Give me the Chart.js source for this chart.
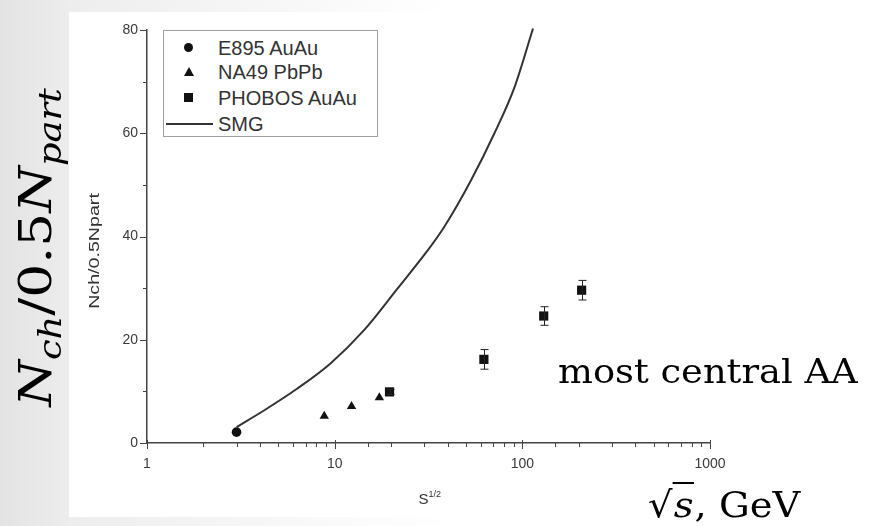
<!DOCTYPE html>
<html>
<head>
<meta charset="utf-8">
<script src="https://cdn.jsdelivr.net/npm/chart.js@4.4.1/dist/chart.umd.min.js"></script>
<style>
  html, body { margin: 0; padding: 0; }
  body { width: 871px; height: 526px; position: relative; overflow: hidden;
         background: linear-gradient(90deg, #e3e3e3 0px, #ededed 70px, #f6f6f6 250px, #ffffff 450px); }
  #panel { position: absolute; left: 69px; top: 12px; right: 0; height: 505px; background: #fff; }
  #c { position: absolute; left: 0; top: 0; }
  #legend { position: absolute; left: 163px; top: 30px; width: 215px; height: 107px;
            border: 1px solid #a0a0a0; box-sizing: border-box; background: #fff;
            font-family: "Liberation Sans", Arial, sans-serif; font-size: 20px; color: #333; }
  .row { position: absolute; left: 0; height: 22px; line-height: 22px; white-space: nowrap; }
  .row .lbl { position: absolute; left: 54px; top: 0; }
  .mk { position: absolute; }
  .ytitle { position: absolute; font-family: "Liberation Sans", Arial, sans-serif; font-size: 14px; color: #333;
            transform-origin: center center; white-space: nowrap; }
  .xtitle { position: absolute; font-family: "Liberation Sans", Arial, sans-serif; font-size: 15px; color: #333; white-space: nowrap; }
  .xtitle sup { font-size: 9px; vertical-align: 7px; }
  .big { position: absolute; font-family: "DejaVu Serif", serif; color: #000; white-space: nowrap; }
</style>
</head>
<body>
<div id="panel"></div>
<canvas id="c" width="871" height="526"></canvas>
<div id="legend"></div>
<div class="ytitle" id="ytitle">Nch/0.5Npart</div>
<div class="xtitle" id="xtitle">S<sup>1/2</sup></div>
<div class="big" id="nlabel" style="font-size:45px;"><i>N</i><sub style="font-size:31px;"><i>ch</i></sub>/0.5<i>N</i><sub style="font-size:31px;"><i>part</i></sub></div>
<div class="big" id="central" style="font-size:34px; left:558px; top:351px;">most central AA</div>
<div class="big" id="sqrts" style="font-size:36px; left:648px; top:484px;">√<span style="border-top:2px solid #000; font-style:italic; padding:0 1px;">s</span>, GeV</div>
<script>
// ---- data ----
const seriesNames = ['E895 AuAu', 'NA49 PbPb', 'PHOBOS AuAu', 'SMG'];
const e895X = [3.0];
const e895Y = [2.1];
const na49X = [8.8, 12.3, 17.3];
const na49Y = [5.2, 7.1, 8.8];
const phobosX = [19.6, 62.4, 130, 207];
const phobosY = [9.9, 16.2, 24.6, 29.6];
const phobosErr = [0.5, 1.9, 1.8, 1.9];
const smgX = [3, 4.2, 6.3, 9.5, 14.3, 21.6, 31, 38.4, 53.3, 71, 91, 114];
const smgY = [3.1, 6.3, 10.5, 15.4, 21.8, 29.9, 37.1, 41.9, 50.9, 60.0, 69.0, 80.3];
const xTickLabels = ['1', '10', '100', '1000'];
const yTickLabels = ['0', '20', '40', '60', '80'];

const pts = (xs, ys) => xs.map((x, i) => ({ x: x, y: ys[i] }));
const isPow10 = v => Math.abs(Math.log10(v) - Math.round(Math.log10(v))) < 1e-9;

const tickMarks = {
  id: 'tickMarks',
  afterDraw(chart) {
    const { ctx, scales: { x, y } } = chart;
    ctx.save();
    ctx.strokeStyle = '#444';
    ctx.lineWidth = 1;
    const ay = y.getPixelForValue(0);
    x.ticks.forEach(t => {
      const px = Math.round(x.getPixelForValue(t.value)) + 0.5;
      const maj = isPow10(t.value);
      ctx.beginPath();
      ctx.moveTo(px, ay - (maj ? 3 : 1));
      ctx.lineTo(px, ay + (maj ? 6 : 4));
      ctx.stroke();
    });
    const ax = x.left;
    y.ticks.forEach(t => {
      const py = Math.round(y.getPixelForValue(t.value)) + 0.5;
      const maj = yTickLabels.includes(String(t.value));
      ctx.beginPath();
      ctx.moveTo(ax - (maj ? 7 : 4), py);
      ctx.lineTo(ax, py);
      ctx.stroke();
    });
    ctx.restore();
  }
};

const errorBars = {
  id: 'errorBars',
  afterDatasetsDraw(chart) {
    const { ctx, scales: { x, y } } = chart;
    ctx.save();
    ctx.strokeStyle = '#222';
    ctx.lineWidth = 1;
    phobosX.forEach((xv, i) => {
      const px = Math.round(x.getPixelForValue(xv)) + 0.5;
      const y1 = y.getPixelForValue(phobosY[i] + phobosErr[i]);
      const y2 = y.getPixelForValue(phobosY[i] - phobosErr[i]);
      ctx.beginPath();
      ctx.moveTo(px, y1); ctx.lineTo(px, y2);
      ctx.moveTo(px - 4, y1); ctx.lineTo(px + 4, y1);
      ctx.moveTo(px - 4, y2); ctx.lineTo(px + 4, y2);
      ctx.stroke();
    });
    ctx.restore();
  }
};

const tickFont = { family: 'Liberation Sans', size: 14 };

new Chart(document.getElementById('c'), {
  type: 'scatter',
  data: {
    datasets: [
      { label: seriesNames[0], data: pts(e895X, e895Y), pointStyle: 'circle', pointRadius: 4.8,
        backgroundColor: '#111', borderColor: '#111', borderWidth: 0 },
      { label: seriesNames[1], data: pts(na49X, na49Y), pointStyle: 'triangle', pointRadius: 5.4,
        backgroundColor: '#111', borderColor: '#111', borderWidth: 0 },
      { label: seriesNames[2], data: pts(phobosX, phobosY), pointStyle: 'rect', pointRadius: 6.5,
        backgroundColor: '#111', borderColor: '#111', borderWidth: 0 },
      { label: seriesNames[3], data: pts(smgX, smgY), showLine: true, pointRadius: 0,
        borderColor: '#333', borderWidth: 2, cubicInterpolationMode: 'monotone', clip: false }
    ]
  },
  options: {
    responsive: false,
    animation: false,
    devicePixelRatio: 1,
    layout: { padding: { left: 0, top: 30, right: 161, bottom: 0 } },
    plugins: { legend: { display: false }, tooltip: { enabled: false } },
    scales: {
      x: {
        type: 'logarithmic', min: 1, max: 1000, position: 'bottom',
        grid: { display: false, drawOnChartArea: false, drawTicks: false },
        border: { display: true, color: '#444', width: 1.5 },
        ticks: {
          autoSkip: false, maxRotation: 0, padding: 13, color: '#3a3a3a', font: tickFont,
          callback: v => { const s = String(Math.round(v)); return isPow10(v) && xTickLabels.includes(s) ? s : ''; }
        },
        afterFit: s => { s.height = 83; }
      },
      y: {
        type: 'linear', min: 0, max: 80,
        grid: { display: false, drawOnChartArea: false, drawTicks: false },
        border: { display: true, color: '#444', width: 1.5 },
        ticks: {
          stepSize: 10, padding: 9, color: '#3a3a3a', font: tickFont,
          callback: v => yTickLabels.includes(String(v)) ? String(v) : ''
        },
        afterFit: s => { s.width = 147; }
      }
    }
  },
  plugins: [tickMarks, errorBars]
});

// ---- HTML legend built from the series names ----
const legend = document.getElementById('legend');
const rowTops = [6, 30, 56, 82];
const markers = [
  '<span class="mk" style="left:20px;top:6px;width:9px;height:9px;border-radius:50%;background:#111"></span>',
  '<span class="mk" style="left:20px;top:6px;width:0;height:0;border-left:5px solid transparent;border-right:5px solid transparent;border-bottom:9px solid #111"></span>',
  '<span class="mk" style="left:20px;top:6px;width:9px;height:9px;background:#111"></span>',
  '<span class="mk" style="left:2px;top:10px;width:47px;height:2px;background:#333"></span>'
];
seriesNames.forEach((n, i) => {
  const r = document.createElement('div');
  r.className = 'row';
  r.style.top = rowTops[i] + 'px';
  r.style.width = '212px';
  r.innerHTML = markers[i] + '<span class="lbl">' + n + '</span>';
  legend.appendChild(r);
});

// ---- text placement / fitting ----
function fitRotated(el, cx, cy, len) {
  const w = el.offsetWidth, h = el.offsetHeight;
  el.style.left = (cx - w / 2) + 'px';
  el.style.top = (cy - h / 2) + 'px';
  el.style.transformOrigin = 'center center';
  el.style.transform = 'rotate(-90deg) scaleX(' + (len / w) + ')';
}
function fitWidth(el, len) {
  const w = el.offsetWidth;
  el.style.transformOrigin = 'left top';
  el.style.transform = 'scaleX(' + (len / w) + ')';
}
fitRotated(document.getElementById('ytitle'), 94, 251, 115);
fitRotated(document.getElementById('nlabel'), 38, 247, 318);
fitWidth(document.getElementById('central'), 300);
fitWidth(document.getElementById('sqrts'), 152);
const xt = document.getElementById('xtitle');
xt.style.left = (430 - xt.offsetWidth / 2) + 'px';
xt.style.top = '489px';
</script>
</body>
</html>
